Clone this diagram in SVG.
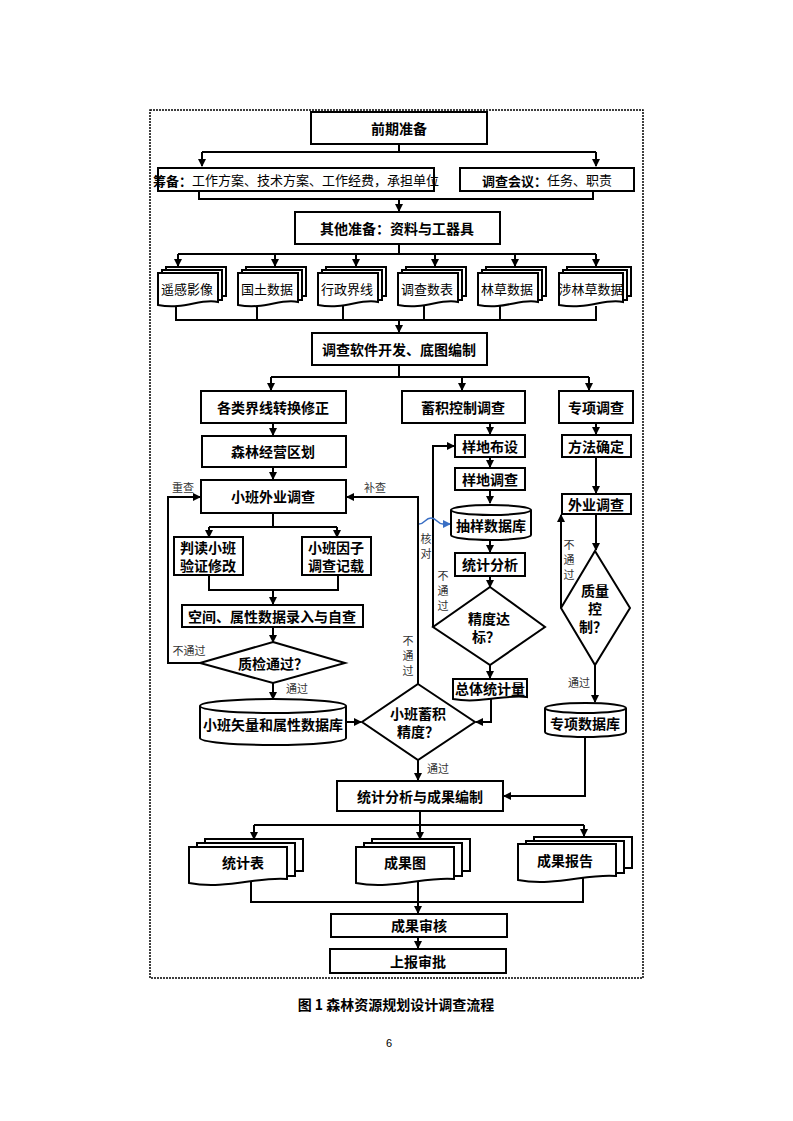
<svg xmlns="http://www.w3.org/2000/svg" width="793" height="1121" viewBox="0 0 793 1121">
<style>
.b{fill:#fff;stroke:#000;stroke-width:2}
.t{font-family:"Noto Sans CJK SC",sans-serif;font-weight:bold;font-size:14px;text-anchor:middle;dominant-baseline:central;fill:#000}
.n{font-family:"Noto Sans CJK SC",sans-serif;font-size:13px;text-anchor:middle;dominant-baseline:central;fill:#000}
.l{font-family:"Noto Sans CJK SC",sans-serif;font-size:11px;text-anchor:middle;dominant-baseline:central;fill:#333}
.c{fill:none;stroke:#000;stroke-width:2}
</style>
<defs>
<marker id="a" markerWidth="8" markerHeight="8" refX="7" refY="4" orient="auto" markerUnits="userSpaceOnUse"><path d="M0,0 L8,4 L0,8 Z" fill="#000"/></marker>
<marker id="ab" markerWidth="8" markerHeight="8" refX="7" refY="4" orient="auto" markerUnits="userSpaceOnUse"><path d="M0,0 L8,4 L0,8 Z" fill="#3a6fc4"/></marker>
</defs>
<rect x="150" y="110" width="493" height="868" fill="none" stroke="#000" stroke-width="1.5" stroke-dasharray="2,1"/>

<g id="connectors" class="c">
<path d="M399,144 V152 M202,152 H596" />
<path d="M202,152 V166" marker-end="url(#a)"/>
<path d="M596,152 V166" marker-end="url(#a)"/>
<path d="M199,191 V199 H593 V191"/>
<path d="M399,199 V211" marker-end="url(#a)"/>
<path d="M399,244 V254 M178,254 H596"/>
<path d="M178,254 V266" marker-end="url(#a)"/>
<path d="M275,254 V266" marker-end="url(#a)"/>
<path d="M356,254 V266" marker-end="url(#a)"/>
<path d="M435,254 V266" marker-end="url(#a)"/>
<path d="M515,254 V266" marker-end="url(#a)"/>
<path d="M596,254 V266" marker-end="url(#a)"/>
<path d="M176,306 V320 H596 V306 M257,306 V320 M343,306 V320 M424,306 V320 M500,306 V320"/>
<path d="M399,320 V332" marker-end="url(#a)"/>
<path d="M399,365 V377 M271,377 H589"/>
<path d="M271,377 V390" marker-end="url(#a)"/>
<path d="M462,377 V390" marker-end="url(#a)"/>
<path d="M589,377 V390" marker-end="url(#a)"/>
<path d="M273,423 V435" marker-end="url(#a)"/>
<path d="M273,467 V479" marker-end="url(#a)"/>
<path d="M273,513 V527 M209,527 H337"/>
<path d="M209,527 V537" marker-end="url(#a)"/>
<path d="M337,527 V537" marker-end="url(#a)"/>
<path d="M209,575 V590 H338 V575"/>
<path d="M273,590 V604" marker-end="url(#a)"/>
<path d="M273,627 V642" marker-end="url(#a)"/>
<path d="M200,663 H168 V497 H200" marker-end="url(#a)"/>
<path d="M273,683 V699" marker-end="url(#a)"/>
<path d="M346,722 H361" marker-end="url(#a)"/>
<path d="M418,684 V497 H347" marker-end="url(#a)"/>
<path d="M418,760 V780" marker-end="url(#a)"/>
<path d="M490,423 V434" marker-end="url(#a)"/>
<path d="M490,457 V467" marker-end="url(#a)"/>
<path d="M490,490 V503" marker-end="url(#a)"/>
<path d="M490,540 V552" marker-end="url(#a)"/>
<path d="M490,576 V587" marker-end="url(#a)"/>
<path d="M433,627 V446 H454" marker-end="url(#a)"/>
<path d="M490,665 V678" marker-end="url(#a)"/>
<path d="M491,699 V722 H476" marker-end="url(#a)"/>
<path d="M596,423 V434" marker-end="url(#a)"/>
<path d="M596,457 V493" marker-end="url(#a)"/>
<path d="M596,514 V550" marker-end="url(#a)"/>
<path d="M561,608 V515" marker-end="url(#a)"/>
<path d="M595,665 V702" marker-end="url(#a)"/>
<path d="M585,737 V796 H504" marker-end="url(#a)"/>
<path d="M420,811 V825 M254,825 H584"/>
<path d="M254,825 V839" marker-end="url(#a)"/>
<path d="M420,825 V839" marker-end="url(#a)"/>
<path d="M584,825 V836" marker-end="url(#a)"/>
<path d="M251,881 V902 H583 V878 M418,880 V913" />
<path d="M418,902 V913" marker-end="url(#a)"/>
<path d="M418,937 V948" marker-end="url(#a)"/>
<path d="M419,524 C425,524 425,518 431,518 C437,518 437,524 443,524 H450" stroke="#3a6fc4" stroke-width="1.5" marker-end="url(#ab)"/>
</g>

<g id="n1"><rect class="b" x="311" y="112" width="176" height="32"/><text class="t" x="399" y="128">前期准备</text></g>
<g id="n2"><rect class="b" x="158" y="168" width="276" height="23"/><text class="n" x="296" y="179.5"><tspan font-weight="bold">筹备：</tspan>工作方案、技术方案、工作经费，承担单位</text></g>
<g id="n3"><rect class="b" x="460" y="168" width="174" height="23"/><text class="n" x="547" y="179.5"><tspan font-weight="bold">调查会议：</tspan>任务、职责</text></g>
<g id="n4"><rect class="b" x="295" y="212" width="205" height="32"/><text class="t" x="397" y="228">其他准备：资料与工器具</text></g>

<g id="d1"><rect class="b" x="166" y="267" width="60" height="29"/><rect class="b" x="162" y="270" width="60" height="30"/><path class="b" d="M158,273 H218 V302 C200,298 185,310 158,305 Z"/><text class="n" x="187" y="288">遥感影像</text></g>
<g id="d2"><rect class="b" x="246" y="267" width="60" height="29"/><rect class="b" x="242" y="270" width="60" height="30"/><path class="b" d="M238,273 H298 V302 C280,298 265,310 238,305 Z"/><text class="n" x="267" y="288">国土数据</text></g>
<g id="d3"><rect class="b" x="326" y="267" width="60" height="29"/><rect class="b" x="322" y="270" width="60" height="30"/><path class="b" d="M318,273 H378 V302 C360,298 345,310 318,305 Z"/><text class="n" x="347" y="288">行政界线</text></g>
<g id="d4"><rect class="b" x="406" y="267" width="60" height="29"/><rect class="b" x="402" y="270" width="60" height="30"/><path class="b" d="M398,273 H458 V302 C440,298 425,310 398,305 Z"/><text class="n" x="427" y="288">调查数表</text></g>
<g id="d5"><rect class="b" x="486" y="267" width="60" height="29"/><rect class="b" x="482" y="270" width="60" height="30"/><path class="b" d="M478,273 H538 V302 C520,298 505,310 478,305 Z"/><text class="n" x="507" y="288">林草数据</text></g>
<g id="d6"><rect class="b" x="567" y="267" width="64" height="29"/><rect class="b" x="563" y="270" width="64" height="30"/><path class="b" d="M559,273 H623 V302 C604,298 588,310 559,305 Z"/><text class="n" x="591" y="288">涉林草数据</text></g>

<g id="n5"><rect class="b" x="312" y="333" width="175" height="32"/><text class="t" x="399" y="349">调查软件开发、底图编制</text></g>
<g id="n6"><rect class="b" x="201" y="391" width="145" height="32"/><text class="t" x="273" y="407">各类界线转换修正</text></g>
<g id="n7"><rect class="b" x="402" y="391" width="123" height="32"/><text class="t" x="463" y="407">蓄积控制调查</text></g>
<g id="n8"><rect class="b" x="559" y="391" width="74" height="32"/><text class="t" x="596" y="407">专项调查</text></g>
<g id="n9"><rect class="b" x="202" y="436" width="144" height="31"/><text class="t" x="273" y="451">森林经营区划</text></g>
<g id="n10"><rect class="b" x="201" y="480" width="145" height="33"/><text class="t" x="273" y="496">小班外业调查</text></g>
<g id="n11"><rect class="b" x="174" y="537" width="69" height="38"/><text class="t" x="208" y="547">判读小班</text><text class="t" x="208" y="565">验证修改</text></g>
<g id="n12"><rect class="b" x="302" y="537" width="69" height="38"/><text class="t" x="336" y="547">小班因子</text><text class="t" x="336" y="565">调查记载</text></g>
<g id="n13"><rect class="b" x="182" y="605" width="181" height="22"/><text class="t" x="272" y="616">空间、属性数据录入与自查</text></g>
<g id="n14"><polygon class="b" points="273,642 345,663 273,683 200,663"/><text class="t" x="273" y="663">质检通过？</text></g>
<g id="n15"><path class="b" d="M200,706 A73,7 0 0 1 346,706 V738 A73,7 0 0 1 200,738 Z"/><path class="c" d="M200,706 A73,7 0 0 0 346,706"/><text class="t" x="273" y="724">小班矢量和属性数据库</text></g>
<g id="n16"><polygon class="b" points="418,684 475,722 418,760 362,722"/><text class="t" x="418" y="713">小班蓄积</text><text class="t" x="418" y="731">精度？</text></g>
<g id="n17"><rect class="b" x="455" y="435" width="70" height="22"/><text class="t" x="490" y="446">样地布设</text></g>
<g id="n18"><rect class="b" x="455" y="468" width="70" height="22"/><text class="t" x="490" y="479">样地调查</text></g>
<g id="n19"><path class="b" d="M451,510 A40,5 0 0 1 531,510 V535 A40,5 0 0 1 451,535 Z"/><path class="c" d="M451,510 A40,5 0 0 0 531,510"/><text class="t" x="491" y="525">抽样数据库</text></g>
<g id="n20"><rect class="b" x="455" y="553" width="70" height="23"/><text class="t" x="490" y="564">统计分析</text></g>
<g id="n21"><polygon class="b" points="490,587 545,627 490,665 433,627"/><text class="t" x="489" y="618">精度达</text><text class="t" x="486" y="636">标？</text></g>
<g id="n22"><path class="b" d="M453,679 H527 V697 C505,694 480,704 453,699 Z"/><text class="t" x="490" y="688">总体统计量</text></g>
<g id="n23"><rect class="b" x="562" y="435" width="69" height="22"/><text class="t" x="596" y="446">方法确定</text></g>
<g id="n24"><rect class="b" x="562" y="494" width="69" height="20"/><text class="t" x="596" y="504">外业调查</text></g>
<g id="n25"><polygon class="b" points="595,551 630,608 595,665 561,608"/><text class="t" x="595" y="590">质量</text><text class="t" x="595" y="608">控</text><text class="t" x="593" y="626">制？</text></g>
<g id="n26"><path class="b" d="M545,708 A40,5 0 0 1 626,708 V732 A40,5 0 0 1 545,732 Z"/><path class="c" d="M545,708 A40,5 0 0 0 626,708"/><text class="t" x="585" y="723">专项数据库</text></g>
<g id="n27"><rect class="b" x="337" y="781" width="166" height="30"/><text class="t" x="420" y="796">统计分析与成果编制</text></g>
<g id="d7"><rect class="b" x="205" y="839" width="98" height="32"/><rect class="b" x="197" y="843" width="98" height="33"/><path class="b" d="M189,847 H287 V879 C260,876 225,890 189,883 Z"/><text class="t" x="243" y="862">统计表</text></g>
<g id="d8"><rect class="b" x="372" y="839" width="98" height="32"/><rect class="b" x="364" y="843" width="98" height="33"/><path class="b" d="M356,847 H454 V879 C427,876 392,890 356,883 Z"/><text class="t" x="405" y="862">成果图</text></g>
<g id="d9"><rect class="b" x="534" y="837" width="98" height="31"/><rect class="b" x="526" y="841" width="98" height="32"/><path class="b" d="M518,844 H616 V876 C589,873 554,887 518,880 Z"/><text class="t" x="565" y="860">成果报告</text></g>
<g id="n28"><rect class="b" x="331" y="914" width="176" height="23"/><text class="t" x="419" y="925">成果审核</text></g>
<g id="n29"><rect class="b" x="330" y="949" width="176" height="24"/><text class="t" x="418" y="961">上报审批</text></g>

<g id="labels">
<text class="l" x="183" y="487">重查</text>
<text class="l" x="375" y="487">补查</text>
<text class="l" x="189" y="650">不通过</text>
<text class="l" x="297" y="688">通过</text>
<text class="l" x="408" y="640">不</text><text class="l" x="408" y="655">通</text><text class="l" x="408" y="670">过</text>
<text class="l" x="426" y="538">核</text><text class="l" x="426" y="553">对</text>
<text class="l" x="443" y="575">不</text><text class="l" x="443" y="590">通</text><text class="l" x="443" y="605">过</text>
<text class="l" x="569" y="544">不</text><text class="l" x="569" y="559">通</text><text class="l" x="569" y="574">过</text>
<text class="l" x="579" y="682">通过</text>
<text class="l" x="438" y="768">通过</text>
</g>
<text class="t" x="396" y="1004" font-size="15">图 1  森林资源规划设计调查流程</text>
<text x="389" y="1043" font-family="Liberation Sans, sans-serif" font-size="11" text-anchor="middle" dominant-baseline="central">6</text>
</svg>
